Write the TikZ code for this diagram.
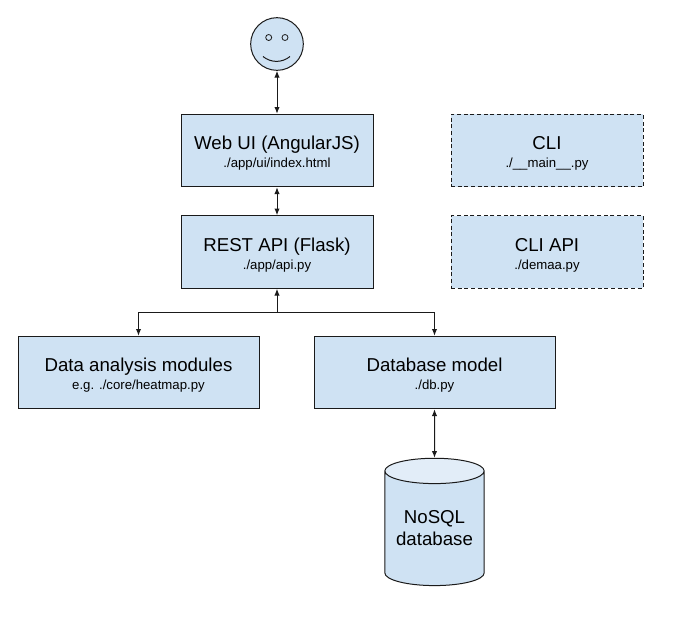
\documentclass[tikz,border=0pt]{standalone}
\usepackage{fontspec}
\setmainfont{Liberation Sans}
\usetikzlibrary{arrows.meta,shapes.geometric}

\definecolor{boxblue}{HTML}{CFE2F3}
\definecolor{lidblue}{HTML}{E2EDF8}
\definecolor{linegray}{HTML}{1A1A1A}

\newcommand{\boxlabel}[2]{%
	\rule{0pt}{14.5pt}{\fontsize{14}{17}\selectfont #1}\\[1.7pt]
	{\fontsize{9.9}{11}\selectfont #2}%
}

\tikzset{
	module/.style={draw=linegray, fill=boxblue, line width=0.75pt, minimum height=54.5pt, inner sep=0pt, align=center},
	narrow/.style={module, minimum width=144pt},
	wide/.style={module, minimum width=180.75pt},
	optional/.style={narrow, dashed, dash pattern=on 3pt off 2pt},
	link/.style={line width=0.75pt, linegray, {Latex[length=5pt,width=4pt]}-{Latex[length=5pt,width=4pt]}},
	tolink/.style={line width=0.75pt, linegray, -{Latex[length=5pt,width=4pt]}}
}

\begin{document}
\begin{tikzpicture}[x=0.75pt, y=-0.75pt]
\useasboundingbox (0,0) rectangle (675,619);

\node[circle, draw=linegray, fill=boxblue, line width=0.75pt, minimum size=39.5pt, inner sep=0pt] (user) at (277,44) {};
\draw[linegray, line width=0.6pt] (268.7,37.5) circle (3);
\draw[linegray, line width=0.6pt] (285,37.5) circle (3);
\draw[linegray, line width=0.75pt] (263,56.5) .. controls (271,63) and (282,63) .. (290,56.5);

\node[narrow] (webui) at (277,150.5) {\boxlabel{Web UI (AngularJS)}{./app/ui/index.html}};
\node[narrow] (restapi) at (277,252) {\boxlabel{REST API (Flask)}{./app/api.py}};
\node[optional] (cli) at (547,150.5) {\boxlabel{CLI}{./\_\_main\_\_.py}};
\node[optional] (cliapi) at (547,252) {\boxlabel{CLI API}{./demaa.py}};
\node[wide] (analysis) at (138.5,372.5) {\boxlabel{Data analysis modules}{e.g. ./core/heatmap.py}};
\node[wide] (dbmodel) at (434.5,372.5) {\boxlabel{Database model}{./db.py}};

\node[cylinder, shape border rotate=90, aspect=0.33, draw=linegray, line width=0.75pt, cylinder uses custom fill, cylinder body fill=boxblue, cylinder end fill=lidblue, minimum width=74.5pt, minimum height=95.5pt, inner sep=0pt, align=center, font=\fontsize{14}{16.5}\selectfont] (nosql) at (434.5,528.5) {NoSQL\\database};

\coordinate (split) at (277,312);

\draw[link] (user) -- (webui);
\draw[link] (webui) -- (restapi);
\draw[tolink] (split) -- (restapi);
\draw[tolink] (split) -| (analysis);
\draw[tolink] (split) -| (dbmodel);
\draw[link] (dbmodel) -- (nosql);
\end{tikzpicture}
\end{document}
